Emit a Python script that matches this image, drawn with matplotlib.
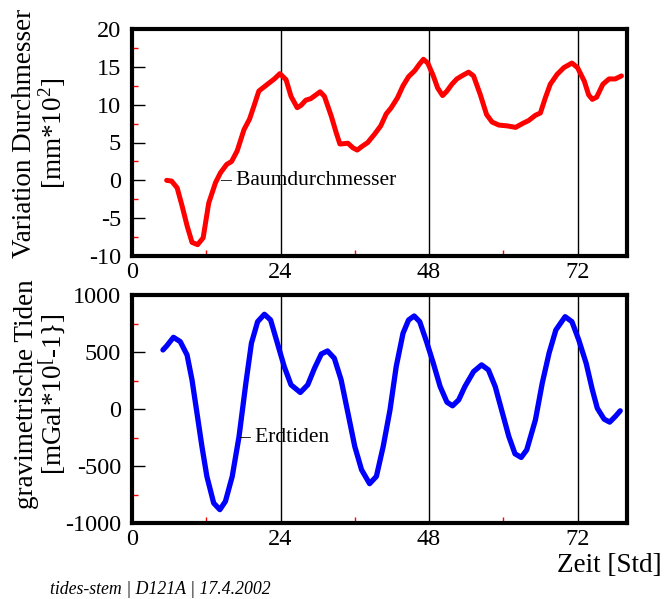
import matplotlib
matplotlib.use("Agg")
import matplotlib.pyplot as plt
from matplotlib.ticker import MultipleLocator, FixedLocator

plt.rcParams['font.family'] = ['Liberation Serif', 'DejaVu Serif']
plt.rcParams['mathtext.fontset'] = 'custom'
plt.rcParams['mathtext.rm'] = 'Liberation Serif'
plt.rcParams['axes.unicode_minus'] = False

# Baumdurchmesser (tree diameter variation, mm*10^2)
t_baum = [5.6, 6.4, 7.3, 8.1, 8.9, 9.7, 10.6, 11.5, 12.4, 13.5, 14.3, 15.3, 16.1, 17.0, 18.1,
          19.0, 19.7, 20.5, 21.9, 23.0, 23.9, 24.9, 25.7, 26.7, 27.3, 28.1, 28.9, 30.4, 31.1,
          32.2, 33.0, 33.6, 34.9, 35.7, 36.4, 37.2, 38.1, 39.2, 40.2, 41.1, 41.9, 42.9, 43.8,
          44.7, 45.7, 46.4, 47.1, 47.8, 48.7, 49.4, 50.2, 50.9, 51.7, 52.5, 53.3, 54.4, 55.2,
          56.3, 57.3, 58.2, 59.3, 60.6, 62.0, 63.1, 64.1, 65.2, 66.0, 66.8, 67.6, 68.7, 69.8,
          71.1, 72.0, 73.1, 73.8, 74.4, 75.1, 76.1, 77.1, 78.1, 79.1]
v_baum = [0.0, -0.1, -1.0, -3.4, -6.0, -8.2, -8.5, -7.6, -3.0, -0.3, 1.0, 2.1, 2.5, 3.9, 6.7,
          8.1, 9.8, 11.8, 12.7, 13.4, 14.1, 13.3, 11.1, 9.6, 9.9, 10.6, 10.8, 11.7, 11.1,
          8.5, 6.3, 4.8, 4.9, 4.3, 4.0, 4.5, 5.0, 6.1, 7.2, 8.8, 9.6, 10.9, 12.5,
          13.7, 14.5, 15.3, 16.0, 15.5, 13.8, 12.2, 11.2, 11.8, 12.7, 13.4, 13.8, 14.3, 13.8,
          11.3, 8.7, 7.7, 7.3, 7.2, 7.0, 7.5, 7.9, 8.6, 8.9, 10.9, 12.7, 14.0, 14.9,
          15.5, 14.9, 13.1, 11.3, 10.7, 11.0, 12.7, 13.4, 13.4, 13.8]

# Erdtiden (gravimetric tides)
t_erd = [5.0, 5.6, 6.7, 7.8, 8.9, 9.7, 10.5, 11.3, 12.1, 13.2, 14.2, 15.1, 16.2, 17.3, 18.4,
         19.3, 20.3, 21.4, 22.4, 23.5, 24.6, 25.7, 27.2, 28.4, 29.5, 30.6, 31.6, 32.7, 33.8,
         34.9, 36.0, 37.1, 38.4, 39.5, 40.6, 41.7, 42.7, 43.8, 44.7, 45.6, 46.5, 47.6, 48.7,
         49.8, 50.9, 51.8, 52.8, 53.8, 55.2, 56.5, 57.6, 58.7, 59.8, 60.9, 61.9, 62.9, 63.8,
         65.2, 66.3, 67.4, 68.5, 70.0, 71.1, 72.2, 73.4, 74.4, 75.2, 76.3, 77.2, 78.1, 78.9]
v_erd = [518, 553, 629, 591, 474, 255, -36, -328, -591, -825, -883, -810, -591, -241, 226,
         577, 766, 831, 781, 577, 372, 212, 145, 212, 358, 483, 509, 445, 255,
         -36, -328, -533, -655, -591, -328, -7, 372, 664, 781, 816, 766, 591, 401,
         197, 60, 28, 80, 197, 328, 387, 343, 197, -22, -241, -393, -425, -358,
         -95, 226, 489, 693, 810, 766, 606, 401, 168, 7, -89, -115, -66, -16]

x_ticks = [0, 24, 48, 72]
x_minor = [12, 36, 60]

W, H = 664, 599
fig = plt.figure(figsize=(W / 100, H / 100), dpi=100)

def px_axes(l, t, r, b):
    return [l / W, 1 - b / H, (r - l) / W, (b - t) / H]

ax1 = fig.add_axes(px_axes(132, 29, 627, 256))
ax2 = fig.add_axes(px_axes(132, 295, 627, 523))

FS = 17.5
LFS = 19.5

def style(ax, ymajor, yminor):
    ax.set_xlim(0, 80)
    for s in ax.spines.values():
        s.set_linewidth(3)
    ax.xaxis.set_major_locator(FixedLocator(x_ticks))
    ax.xaxis.set_minor_locator(FixedLocator(x_minor))
    ax.yaxis.set_major_locator(MultipleLocator(ymajor))
    ax.yaxis.set_minor_locator(MultipleLocator(yminor))
    ax.tick_params(axis='y', which='major', direction='in', length=9, width=1,
                   labelsize=FS, pad=8, right=False)
    ax.tick_params(axis='y', which='minor', direction='in', length=4, width=1,
                   color='red', right=False)
    ax.tick_params(axis='x', which='major', direction='in', length=0,
                   labelsize=FS, pad=4, top=False)
    ax.tick_params(axis='x', which='minor', direction='in', length=4, width=1,
                   color='red', top=False)
    ax.grid(True, axis='x', which='major', color='black', linewidth=1)
    ax.set_axisbelow(True)

style(ax1, 5, 2.5)
ax1.set_ylim(-10, 20)
ax1.plot(t_baum, v_baum, color='red', linewidth=3.6, solid_capstyle='round',
         solid_joinstyle='round', zorder=3)
ax1.text(14.2, 0, '– Baumdurchmesser', fontsize=15.5, va='center', ha='left', zorder=4)

style(ax2, 500, 250)
ax2.set_ylim(-1000, 1000)
ax2.plot(t_erd, v_erd, color='blue', linewidth=3.8, solid_capstyle='round',
         solid_joinstyle='round', zorder=3)
ax2.text(17.3, -250, '– Erdtiden', fontsize=15.5, va='center', ha='left', zorder=4)

fig.text(40 / W, 1 - 133 / H, 'Variation Durchmesser\n[mm*10$^{2}$]', rotation=90,
         ha='center', va='center', fontsize=LFS, multialignment='center', linespacing=0.95)
fig.text(41 / W, 1 - 394 / H, 'gravimetrische Tiden\n[mGal*10$^{[}$-1}]', rotation=90,
         ha='center', va='center', fontsize=LFS, multialignment='center', linespacing=0.95)

fig.text(662 / W, 1 - 566 / H, 'Zeit [Std]', ha='right', va='center', fontsize=LFS)
fig.text(50 / W, 1 - 590 / H, 'tides-stem | D121A | 17.4.2002', ha='left', va='center',
         fontsize=12.8, style='italic')

fig.savefig('out.png', dpi=100)
